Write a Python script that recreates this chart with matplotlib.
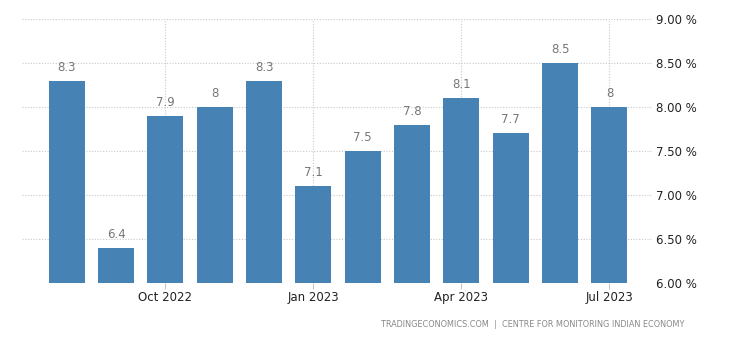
import matplotlib.pyplot as plt
import numpy as np

months = ['Aug 2022', 'Sep 2022', 'Oct 2022', 'Nov 2022', 'Dec 2022', 'Jan 2023',
          'Feb 2023', 'Mar 2023', 'Apr 2023', 'May 2023', 'Jun 2023', 'Jul 2023']
rates = [8.3, 6.4, 7.9, 8.0, 8.3, 7.1, 7.5, 7.8, 8.1, 7.7, 8.5, 8.0]
bar_labels = ['8.3', '6.4', '7.9', '8', '8.3', '7.1', '7.5', '7.8', '8.1', '7.7', '8.5', '8']
tick_months = ['Oct 2022', 'Jan 2023', 'Apr 2023', 'Jul 2023']
y_ticks = [6.0, 6.5, 7.0, 7.5, 8.0, 8.5, 9.0]
source = 'TRADINGECONOMICS.COM  |  CENTRE FOR MONITORING INDIAN ECONOMY'

plt.rcParams['font.family'] = ['DejaVu Sans']

fig = plt.figure(figsize=(7.3, 3.4), dpi=100)
ax = fig.add_axes([0.030, 0.168, 0.865, 0.776])

x = np.arange(len(months))
ax.bar(x, rates, width=0.73, color='#4682b4', zorder=3)

# value labels above each bar
for xi, v, lab in zip(x, rates, bar_labels):
    ax.text(xi, v + 0.08, lab, ha='center', va='bottom', fontsize=8.5, color='#777777')

ax.set_ylim(6.0, 9.0)
ax.set_xlim(-0.91, 11.89)
ax.set_yticks(y_ticks)
ax.set_yticklabels(['%.2f %%' % t for t in y_ticks])
ax.yaxis.tick_right()

tick_pos = [months.index(m) for m in tick_months]
ax.set_xticks(tick_pos)
ax.set_xticklabels(tick_months)

ax.grid(True, color='#c8c8c8', linestyle=(0, (1, 1.5)), linewidth=0.8, zorder=0)
for s in ax.spines.values():
    s.set_visible(False)

ax.tick_params(axis='y', length=0, pad=2, labelsize=8.5, labelcolor='#222222')
ax.tick_params(axis='x', length=4, width=0.8, color='#c8c8c8', pad=2,
               labelsize=8.5, labelcolor='#222222', direction='out')

fig.text(0.938, 0.045, source, ha='right', va='center', fontsize=5.9, color='#888888')

fig.savefig('out.png', dpi=100)
